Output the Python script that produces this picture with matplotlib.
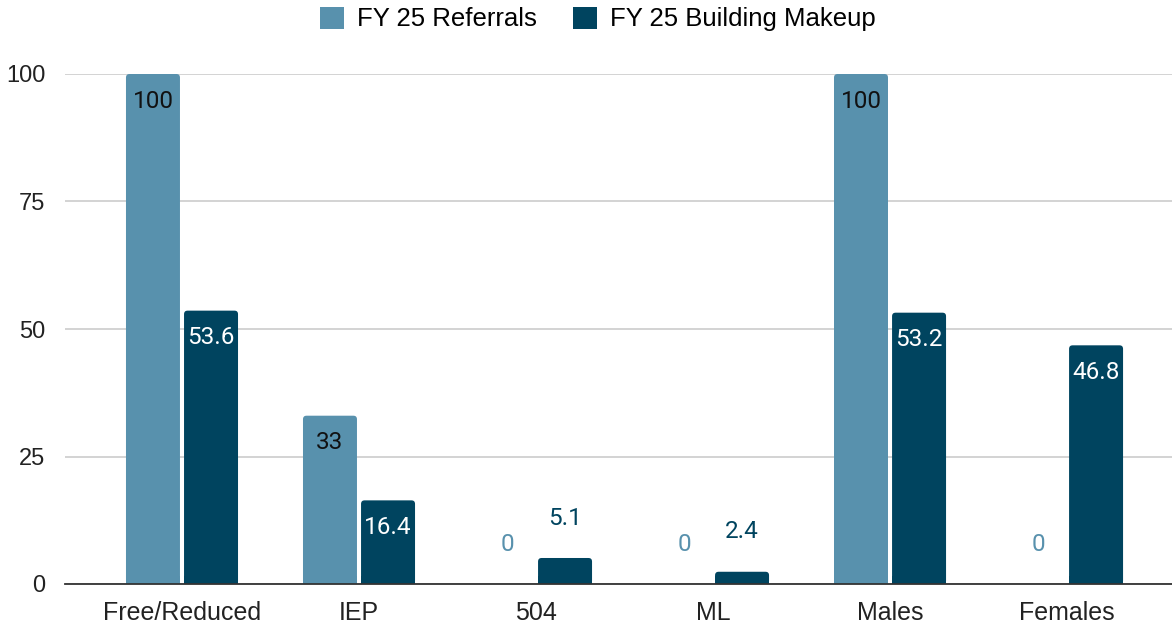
import numpy as np
import matplotlib.pyplot as plt
from matplotlib.patches import FancyBboxPatch

categories = ["Free/Reduced", "IEP", "504", "ML", "Males", "Females"]
referrals = [100, 33, 0, 0, 100, 0]
building = [53.6, 16.4, 5.1, 2.4, 53.2, 46.8]
series_names = ["FY 25 Referrals", "FY 25 Building Makeup"]
colors = ["#5891ad", "#00445f"]

W, H = 1172, 624
fig = plt.figure(figsize=(W / 100, H / 100), dpi=100)
ax = fig.add_axes([65 / W, 40 / H, (1172 - 65) / W, (584 - 74) / H])

x = np.arange(len(categories))
bw = 0.305
off = 0.164
ax.set_xlim(-0.661, 5.593)
ax.set_ylim(0, 100)

def fmt(v):
    return f"{v:g}"

for vals, dx, col, inner_col in [(referrals, -off, colors[0], "#111111"),
                                 (building, off, colors[1], "white")]:
    for xi, v in zip(x, vals):
        if v > 0:
            p = FancyBboxPatch((xi + dx - bw / 2, 0), bw, v,
                               boxstyle="round,pad=0,rounding_size=0.02",
                               mutation_aspect=100 / 6.254 * (1107 / 510),
                               fc=col, ec="none", clip_on=False, zorder=3)
            ax.add_patch(p)
            # square off the bottom corners
            ax.bar(xi + dx, min(v, 1.5), bw, color=col, zorder=3)
        if v >= 10:
            ax.text(xi + dx, v - 5.3, fmt(v), ha="center", va="center",
                    color=inner_col, fontsize=17.5, family="Roboto", zorder=4)
        else:
            ax.text(xi + dx, v + 7.8, fmt(v), ha="center", va="center",
                    color=col, fontsize=17.5, family="Roboto", zorder=4)

ax.set_yticks([0, 25, 50, 75, 100])
ax.set_xticks(x)
ax.set_xticklabels(categories)
ax.tick_params(length=0, colors="#222222")
ax.tick_params(axis="y", pad=14, labelsize=17)
ax.tick_params(axis="x", pad=12, labelsize=18)
for lab in ax.get_xticklabels() + ax.get_yticklabels():
    lab.set_family("Liberation Sans")
ax.grid(axis="y", color="#cccccc", linewidth=1.2, zorder=0)
ax.set_axisbelow(True)
for s in ["top", "right", "left"]:
    ax.spines[s].set_visible(False)
ax.spines["bottom"].set_color("#333333")
ax.spines["bottom"].set_linewidth(1.3)
ax.spines["bottom"].set_zorder(5)

handles = [plt.Rectangle((0, 0), 1, 1, fc=c, ec="none") for c in colors]
fig.legend(handles, series_names, loc="center", bbox_to_anchor=(598 / W, 1 - 19 / H),
           ncol=2, frameon=False, prop={"family": "Liberation Sans", "size": 18.5},
           handlelength=0.95, handleheight=0.95, handletextpad=0.5, columnspacing=1.4)

fig.savefig("out.png", dpi=100)
